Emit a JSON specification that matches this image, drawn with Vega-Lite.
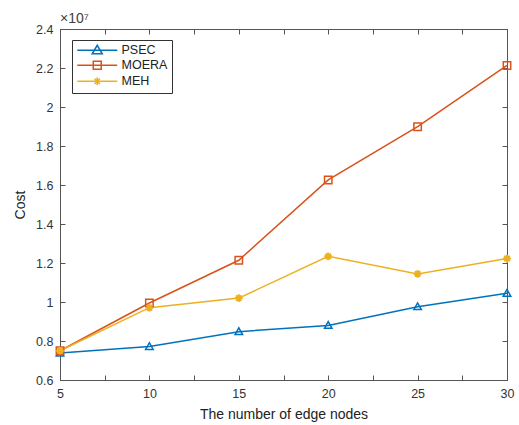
{
  "$schema": "https://vega.github.io/schema/vega-lite/v6.json",
  "width": 447,
  "height": 351,
  "autosize": {"type": "none"},
  "padding": {"left": 60, "top": 29, "right": 12, "bottom": 45},
  "background": "white",
  "title": {"text": "×10⁷", "anchor": "start", "frame": "group", "fontSize": 14, "fontWeight": "normal", "font": "Liberation Sans", "color": "#404040", "offset": 4, "dy": 11},
  "config": {
    "view": {"stroke": "#555555", "strokeWidth": 1},
    "font": "Liberation Sans",
    "axis": {
      "grid": false,
      "domainColor": "#555555",
      "tickColor": "#555555",
      "tickSize": -5,
      "labelColor": "#333333",
      "labelFontSize": 12.5,
      "titleFontSize": 14,
      "titleFontWeight": "normal",
      "titleColor": "#222222",
      "labelFont": "Liberation Sans",
      "titleFont": "Liberation Sans"
    }
  },
  "data": {
    "values": [
      {"n": 5, "series": "PSEC", "cost": 7380000},
      {"n": 10, "series": "PSEC", "cost": 7720000},
      {"n": 15, "series": "PSEC", "cost": 8480000},
      {"n": 20, "series": "PSEC", "cost": 8800000},
      {"n": 25, "series": "PSEC", "cost": 9760000},
      {"n": 30, "series": "PSEC", "cost": 10450000},
      {"n": 5, "series": "MOERA", "cost": 7500000},
      {"n": 10, "series": "MOERA", "cost": 9950000},
      {"n": 15, "series": "MOERA", "cost": 12140000},
      {"n": 20, "series": "MOERA", "cost": 16260000},
      {"n": 25, "series": "MOERA", "cost": 18990000},
      {"n": 30, "series": "MOERA", "cost": 22130000},
      {"n": 5, "series": "MEH", "cost": 7500000},
      {"n": 10, "series": "MEH", "cost": 9710000},
      {"n": 15, "series": "MEH", "cost": 10200000},
      {"n": 20, "series": "MEH", "cost": 12340000},
      {"n": 25, "series": "MEH", "cost": 11440000},
      {"n": 30, "series": "MEH", "cost": 12230000}
    ]
  },
  "layer": [
    {
      "mark": {"type": "line", "strokeWidth": 1.5},
      "encoding": {
        "x": {"field": "n", "type": "quantitative", "scale": {"domain": [5, 30], "nice": false, "zero": false},
          "axis": {"orient": "bottom", "title": "The number of edge nodes", "values": [5, 7.5, 10, 12.5, 15, 17.5, 20, 22.5, 25, 27.5, 30], "labelExpr": "datum.value % 5 === 0 ? datum.label : ''", "labelPadding": 12, "titlePadding": 8, "labelFlush": false}},
        "y": {"field": "cost", "type": "quantitative", "scale": {"domain": [6000000, 24000000], "nice": false, "zero": false},
          "axis": {"orient": "left", "title": "Cost", "values": [6000000, 8000000, 10000000, 12000000, 14000000, 16000000, 18000000, 20000000, 22000000, 24000000], "labelExpr": "format(datum.value / 10000000, '.2~f')", "labelPadding": 12, "titlePadding": 8}},
        "color": {"field": "series", "type": "nominal",
          "scale": {"domain": ["PSEC", "MOERA", "MEH"], "range": ["#0072BD", "#D95319", "#EDB120"]},
          "legend": {
            "title": null,
            "orient": "none",
            "legendX": 12,
            "legendY": 11,
            "strokeColor": "#333333",
            "fillColor": "white",
            "padding": 4,
            "labelFontSize": 12.5,
            "labelColor": "#222222",
            "symbolSize": 100,
            "symbolStrokeWidth": 1.5,
            "rowPadding": 1,
            "labelOffset": 33,
            "encode": {
              "symbols": {
                "update": {
                  "shape": {"signal": "datum.value === 'PSEC' ? 'M-1,0L7,0M2,0.7L3,-1L4,0.7Z' : datum.value === 'MOERA' ? 'M-1,0L7,0M2.2,-0.8L3.8,-0.8L3.8,0.8L2.2,0.8Z' : 'M-1,0L7,0M2.2,0L3.8,0M3,-0.8L3,0.8M2.45,-0.55L3.55,0.55M2.45,0.55L3.55,-0.55'"},
                  "fill": {"value": "transparent"},
                  "opacity": {"value": 1}
                }
              }
            }
          }}
      }
    },
    {
      "mark": {"type": "point", "opacity": 0},
      "encoding": {
        "x": {"field": "n", "type": "quantitative",
          "axis": {"orient": "top", "title": null, "labelExpr": "''", "values": [5, 7.5, 10, 12.5, 15, 17.5, 20, 22.5, 25, 27.5, 30]}},
        "y": {"field": "cost", "type": "quantitative",
          "axis": {"orient": "right", "title": null, "labelExpr": "''", "values": [6000000, 8000000, 10000000, 12000000, 14000000, 16000000, 18000000, 20000000, 22000000, 24000000]}}
      }
    },
    {
      "transform": [{"filter": "datum.series === 'PSEC'"}],
      "mark": {"type": "point", "filled": false, "strokeWidth": 1.5, "size": 70, "opacity": 1, "color": "#0072BD", "shape": "M-0.9,0.7L0,-0.9L0.9,0.7Z"},
      "encoding": {
        "x": {"field": "n", "type": "quantitative", "axis": null},
        "y": {"field": "cost", "type": "quantitative", "axis": null}
      }
    },
    {
      "transform": [{"filter": "datum.series === 'MOERA'"}],
      "mark": {"type": "point", "filled": false, "strokeWidth": 1.5, "size": 55, "opacity": 1, "color": "#D95319", "shape": "square"},
      "encoding": {
        "x": {"field": "n", "type": "quantitative", "axis": null},
        "y": {"field": "cost", "type": "quantitative", "axis": null}
      }
    },
    {
      "transform": [{"filter": "datum.series === 'MEH'"}],
      "mark": {"type": "point", "filled": false, "strokeWidth": 2, "size": 60, "opacity": 1, "color": "#EDB120", "shape": "M-1,0L1,0M-0.7,-0.7L0.7,0.7M-0.7,0.7L0.7,-0.7M0,-1L0,1"},
      "encoding": {
        "x": {"field": "n", "type": "quantitative", "axis": null},
        "y": {"field": "cost", "type": "quantitative", "axis": null}
      }
    }
  ],
  "resolve": {"axis": {"x": "independent", "y": "independent"}}
}
